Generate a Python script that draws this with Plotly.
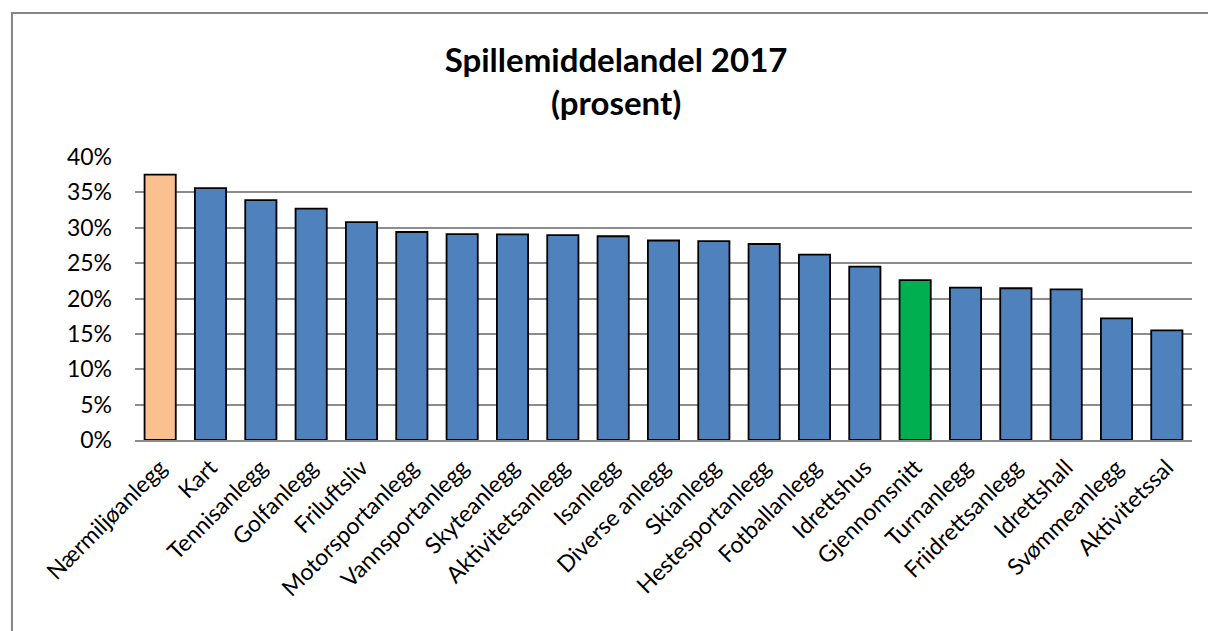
import plotly.graph_objects as go

# Categories and values (percent share, 2017)
categories = [
    "Nærmiljøanlegg", "Kart", "Tennisanlegg", "Golfanlegg", "Friluftsliv",
    "Motorsportanlegg", "Vannsportanlegg", "Skyteanlegg", "Aktivitetsanlegg",
    "Isanlegg", "Diverse anlegg", "Skianlegg", "Hestesportanlegg",
    "Fotballanlegg", "Idrettshus", "Gjennomsnitt", "Turnanlegg",
    "Friidrettsanlegg", "Idrettshall", "Svømmeanlegg", "Aktivitetssal",
]
shares = [
    0.375, 0.356, 0.339, 0.327, 0.308,
    0.294, 0.291, 0.2905, 0.2895,
    0.288, 0.282, 0.281, 0.277,
    0.262, 0.245, 0.226, 0.2155,
    0.2145, 0.213, 0.172, 0.155,
]

BLUE = "#4F81BD"
ORANGE = "#FAC090"
GREEN = "#00B050"
bar_colors = []
for name in categories:
    if name == "Nærmiljøanlegg":
        bar_colors.append(ORANGE)
    elif name == "Gjennomsnitt":
        bar_colors.append(GREEN)
    else:
        bar_colors.append(BLUE)

FONT = "Lato, 'Open Sans', sans-serif"

fig = go.Figure(
    go.Bar(
        x=categories,
        y=shares,
        marker=dict(color=bar_colors, line=dict(color="black", width=1.8)),
        hovertemplate="%{x}: %{y:.1%}<extra></extra>",
    )
)

fig.update_layout(
    width=1208,
    height=631,
    margin=dict(l=135, r=16, t=157, b=191),
    paper_bgcolor="white",
    plot_bgcolor="white",
    bargap=0.38,
    showlegend=False,
    font=dict(family=FONT, size=23, color="black"),
    title=dict(
        text="<b>Spillemiddelandel 2017<br>(prosent)</b>",
        x=0.51,
        xanchor="center",
        y=0.886,
        yanchor="middle",
        font=dict(family=FONT, size=33, color="black"),
    ),
)

fig.update_yaxes(
    range=[0, 0.40],
    dtick=0.05,
    tickformat=".0%",
    showgrid=True,
    gridcolor="#8C8C8C",
    gridwidth=1.5,
    zeroline=False,
    showline=False,
    ticklabelstandoff=22,
    tickfont=dict(size=23),
)

fig.update_xaxes(
    tickangle=-45,
    showline=True,
    linecolor="#8C8C8C",
    linewidth=2,
    showgrid=False,
    ticklabelstandoff=3,
    tickfont=dict(size=23),
)

# Outer chart border: only the left and top edges fall inside the picture
fig.add_shape(
    type="rect",
    xref="paper", yref="paper",
    x0=-0.1164, x1=1.3, y0=-1.2, y1=1.509,
    line=dict(color="#868686", width=2),
    layer="below",
)

# drop the browser's default 8px body margin and any scrollbars
fig.write_html(
    "out.html",
    config={"displayModeBar": False},
    post_script=(
        "document.body.style.margin='0';"
        "document.body.style.overflow='hidden';"
        "document.documentElement.style.overflow='hidden';"
    ),
)
